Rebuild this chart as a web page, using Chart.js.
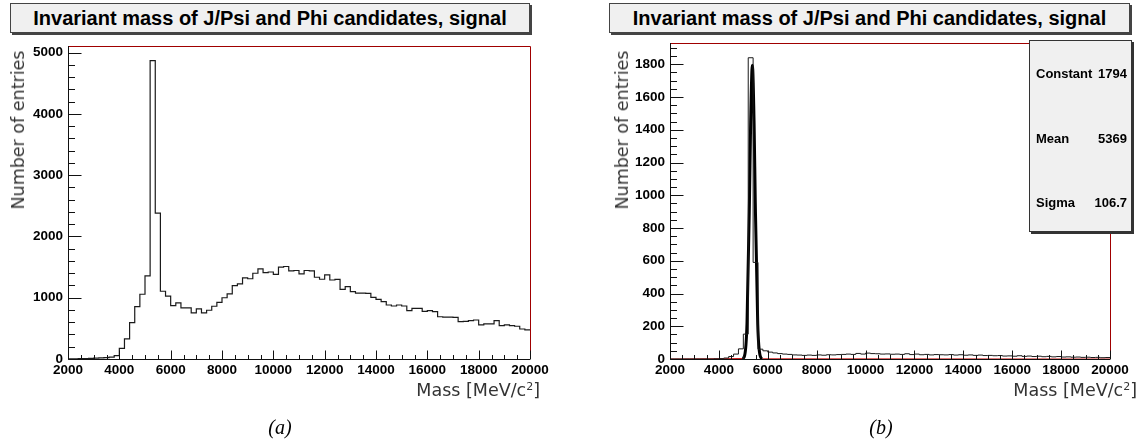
<!DOCTYPE html>
<html>
<head>
<meta charset="utf-8">
<script src="https://cdn.jsdelivr.net/npm/chart.js@4.4.0/dist/chart.umd.min.js"></script>
<style>
  body { margin: 0; background: #fff; width: 1140px; height: 446px; overflow: hidden; position: relative; font-family: "Liberation Sans", Arial, sans-serif; }
  canvas { position: absolute; top: 0; }
  .title { position: absolute; top: 3px; height: 28px; background: #f0f0f0; border: 1px solid #444; box-shadow: 2px 2px 0 #444;
           font-weight: bold; font-size: 20px; line-height: 28px; text-align: center; color: #000; white-space: nowrap; }
  .ytitle { position: absolute; font-family: "DejaVu Sans", sans-serif; font-size: 17.5px; color: #333; white-space: nowrap;
            transform: translate(-50%, -50%) rotate(-90deg); }
  .xtitle { position: absolute; font-family: "DejaVu Sans", sans-serif; font-size: 17.5px; color: #333; white-space: nowrap;
            transform: translate(-100%, -50%); }
  .xtitle sup { font-size: 11px; }
  .cap { position: absolute; font-family: "Liberation Serif", serif; font-style: italic; font-size: 20px; color: #000;
         transform: translate(-50%, -50%); }
  .stats { position: absolute; left: 1029px; top: 40px; width: 101px; height: 190px; background: #f0f0f0;
           border: 1px solid #333; box-shadow: 2px 2px 0 #333; font-weight: bold; font-size: 13px; }
  .stats div { position: absolute; left: 6px; right: 4px; height: 16px; line-height: 16px; }
  .stats span { float: right; }
</style>
</head>
<body>
<div class="title" style="left:10px; width:518px;">Invariant mass of J/Psi and Phi candidates, signal</div>
<div class="title" style="left:609px; width:519px;">Invariant mass of J/Psi and Phi candidates, signal</div>

<canvas id="chartA" width="560" height="446" style="left:0px;"></canvas>
<canvas id="chartB" width="560" height="446" style="left:580px;"></canvas>

<div class="ytitle" style="left:18px; top:130px;">Number of entries</div>
<div class="ytitle" style="left:622px; top:130px;">Number of entries</div>
<div class="xtitle" style="left:540px; top:390px;">Mass [MeV/c<sup>2</sup>]</div>
<div class="xtitle" style="left:1137px; top:390px;">Mass [MeV/c<sup>2</sup>]</div>
<div class="cap" style="left:280px; top:427px;">(a)</div>
<div class="cap" style="left:881px; top:427px;">(b)</div>

<div class="stats">
  <div style="top:25px;">Constant <span>1794</span></div>
  <div style="top:90px;">Mean <span>5369</span></div>
  <div style="top:154px;">Sigma <span>106.7</span></div>
</div>

<script>
// histogram binning (MeV/c2)
var binStart = 2000;
var binWidth = 200;
var massTicks = [2000, 4000, 6000, 8000, 10000, 12000, 14000, 16000, 18000, 20000];

// (a) entries per bin
var countsA = [
  2, 4, 6, 8, 10, 14, 18, 22, 30, 55,
  175, 327, 594, 855, 1057, 1356, 4870, 2380, 1106, 1025,
  872, 915, 834, 834, 752, 817, 752, 796, 861, 926,
  1000, 1063, 1199, 1226, 1324, 1310, 1400, 1470, 1410, 1420,
  1380, 1500, 1510, 1440, 1445, 1390, 1445, 1440, 1335, 1302,
  1372, 1290, 1300, 1138, 1182, 1100, 1075, 1075, 1070, 1007,
  975, 937, 882, 865, 882, 865, 789, 828, 828, 779,
  789, 773, 690, 685, 685, 680, 610, 615, 626, 637,
  556, 572, 572, 626, 546, 556, 546, 535, 490, 474
];
var yTicksA = [0, 1000, 2000, 3000, 4000, 5000];

// (b) entries per bin
var countsB = [
  0, 0, 0, 0, 0, 0, 0, 0, 0, 1,
  2, 6, 15, 30, 62, 152, 1840, 590, 60, 50,
  42, 37, 33, 30, 28, 25, 24, 22, 24, 22,
  25, 23, 26, 25, 27, 28, 30, 28, 34, 30,
  36, 33, 32, 30, 31, 29, 30, 28, 32, 27,
  30, 26, 28, 25, 27, 26, 25, 27, 24, 26,
  23, 25, 22, 24, 21, 22, 20, 21, 18, 19,
  17, 20, 16, 18, 15, 17, 14, 16, 13, 15,
  12, 13, 11, 12, 10, 11, 9, 10, 8, 9
];
var yTicksB = [0, 200, 400, 600, 800, 1000, 1200, 1400, 1600, 1800];

// gaussian fit curve of (b)
var fitMass  = [2000, 4950, 5050, 5150, 5250, 5300, 5369, 5440, 5490, 5590, 5690, 5790, 20000];
var fitValue = [0, 2, 20, 220, 960, 1450, 1794, 1440, 950, 210, 19, 1, 0];

function histPoints(counts) {
  var pts = [];
  for (var i = 0; i < counts.length; i++) {
    pts.push({x: binStart + i * binWidth, y: counts[i]});
  }
  pts.push({x: binStart + counts.length * binWidth, y: counts[counts.length - 1]});
  return pts;
}

function pairs(xs, ys) {
  var pts = [];
  for (var i = 0; i < xs.length; i++) pts.push({x: xs[i], y: ys[i]});
  return pts;
}

// ROOT-like frame: inner ticks, black axes, red top/right border
var frame = {
  id: 'frame',
  beforeDatasetsDraw: function(chart, args, o) {
    var ctx = chart.ctx, a = chart.chartArea;
    ctx.save();
    ctx.lineWidth = 1;
    ctx.strokeStyle = '#a00000';
    ctx.beginPath();
    ctx.moveTo(a.left, Math.round(a.top) + 0.5);
    ctx.lineTo(Math.round(a.right) + 0.5, Math.round(a.top) + 0.5);
    ctx.lineTo(Math.round(a.right) + 0.5, a.bottom);
    ctx.stroke();
    ctx.restore();
  },
  afterDatasetsDraw: function(chart, args, o) {
    var ctx = chart.ctx, a = chart.chartArea, xs = chart.scales.x, ys = chart.scales.y;
    var left = Math.round(a.left) + 0.5, bottom = Math.round(a.bottom) + 0.5;
    ctx.save();
    ctx.lineWidth = 1;
    ctx.strokeStyle = '#111';
    ctx.beginPath();
    ctx.moveTo(left, Math.round(a.top));
    ctx.lineTo(left, bottom);
    ctx.lineTo(Math.round(a.right), bottom);
    var v, p, len;
    for (v = xs.min; v <= xs.max; v += o.xMinor) {
      p = Math.round(xs.getPixelForValue(v)) + 0.5;
      len = (v % o.xMajor === 0) ? 9 : 4.5;
      ctx.moveTo(p, bottom);
      ctx.lineTo(p, bottom - len);
    }
    for (v = ys.min; v <= ys.max; v += o.yMinor) {
      p = Math.round(ys.getPixelForValue(v)) + 0.5;
      len = (v % o.yMajor === 0) ? 13 : 6.5;
      ctx.moveTo(left, p);
      ctx.lineTo(left + len, p);
    }
    ctx.stroke();
    ctx.restore();
  }
};

function makeOptions(yMax, yTicks, yWidth, top, ticks) {
  var tickFont = {family: 'Liberation Sans', weight: 'bold', size: 13.5};
  return {
    responsive: false,
    animation: false,
    layout: {padding: {left: 0, top: top, right: 30, bottom: 0}},
    plugins: {legend: {display: false}, tooltip: {enabled: false}, frame: ticks},
    scales: {
      x: {
        type: 'linear', min: 2000, max: 20000,
        afterBuildTicks: function(s) { s.ticks = massTicks.map(function(v) { return {value: v}; }); },
        afterFit: function(s) { s.height = 87; },
        grid: {display: false, drawTicks: false},
        border: {display: false},
        ticks: {font: tickFont, color: '#000', padding: 3, maxRotation: 0, autoSkip: false,
                callback: function(v) { return String(v); }}
      },
      y: {
        type: 'linear', min: 0, max: yMax,
        afterBuildTicks: function(s) { s.ticks = yTicks.map(function(v) { return {value: v}; }); },
        afterFit: function(s) { s.width = yWidth; },
        grid: {display: false, drawTicks: false},
        border: {display: false},
        ticks: {font: tickFont, color: '#000', padding: 5, autoSkip: false,
                callback: function(v) { return String(v); }}
      }
    }
  };
}

new Chart(document.getElementById('chartA'), {
  type: 'line',
  data: {
    datasets: [{
      data: histPoints(countsA),
      stepped: true,
      borderColor: '#1a1a1a',
      borderWidth: 1.2,
      pointRadius: 0,
      fill: false
    }]
  },
  options: makeOptions(5110, yTicksA, 68, 46, {xMinor: 500, xMajor: 2000, yMinor: 200, yMajor: 1000}),
  plugins: [frame]
});

new Chart(document.getElementById('chartB'), {
  type: 'line',
  data: {
    datasets: [{
      data: histPoints(countsB),
      stepped: true,
      borderColor: '#1a1a1a',
      borderWidth: 1,
      pointRadius: 0,
      fill: false
    }, {
      data: pairs(fitMass, fitValue),
      cubicInterpolationMode: 'monotone',
      borderColor: '#000',
      borderWidth: 3,
      pointRadius: 0,
      fill: false,
      segment: {
        borderColor: function(c) { return (c.p0.parsed.y < 5 && c.p1.parsed.y < 5) ? '#d02020' : '#000'; },
        borderWidth: function(c) { return (c.p0.parsed.y < 5 && c.p1.parsed.y < 5) ? 1.2 : 3; }
      }
    }]
  },
  options: makeOptions(1930, yTicksB, 90, 43, {xMinor: 500, xMajor: 2000, yMinor: 50, yMajor: 200}),
  plugins: [frame]
});
</script>
</body>
</html>
